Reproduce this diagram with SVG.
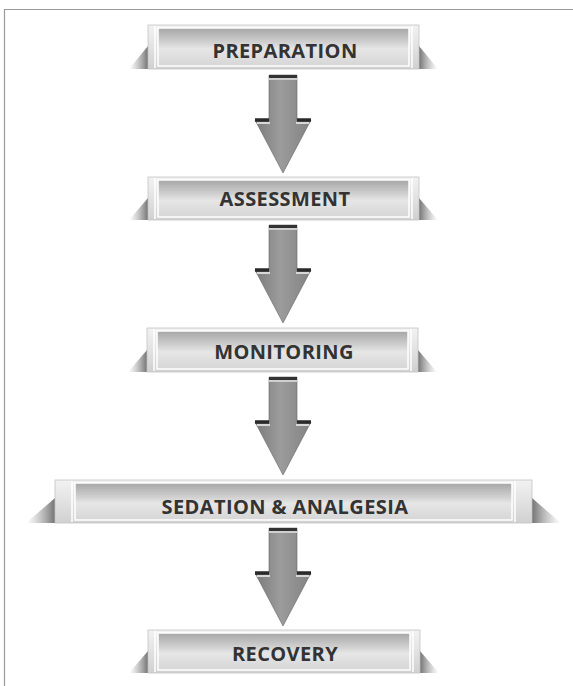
<svg xmlns="http://www.w3.org/2000/svg" width="573" height="686" viewBox="0 0 573 686">
<defs>
<linearGradient id="outer" x1="0" y1="0" x2="0" y2="1">
<stop offset="0" stop-color="#f2f2f2"/><stop offset="0.5" stop-color="#e2e2e2"/><stop offset="1" stop-color="#d0d0d0"/>
</linearGradient>
<linearGradient id="panel" x1="0" y1="0" x2="0" y2="1">
<stop offset="0" stop-color="#a6a6a6"/><stop offset="0.35" stop-color="#cdcdcd"/><stop offset="0.55" stop-color="#e6e6e6"/><stop offset="1" stop-color="#d6d6d6"/>
</linearGradient>
<linearGradient id="shL" x1="1" y1="0" x2="0" y2="0">
<stop offset="0" stop-color="#444" stop-opacity="0.75"/><stop offset="1" stop-color="#888" stop-opacity="0"/>
</linearGradient>
<linearGradient id="shR" x1="0" y1="0" x2="1" y2="0">
<stop offset="0" stop-color="#444" stop-opacity="0.75"/><stop offset="1" stop-color="#888" stop-opacity="0"/>
</linearGradient>
<linearGradient id="arr" x1="0" y1="0" x2="1" y2="0">
<stop offset="0" stop-color="#7a7a7a"/><stop offset="0.45" stop-color="#9c9c9c"/><stop offset="1" stop-color="#828282"/>
</linearGradient>
<g id="arrow">
<path d="M-14,0 H14 V45 H28 L0,98 L-28,45 H-14 Z" fill="url(#arr)" stroke="#666" stroke-width="0.6"/>
<rect x="-14" y="0" width="28" height="3" fill="#333"/>
<rect x="-14" y="3" width="28" height="2" fill="#cfcfcf"/>
<path d="M-28,45 H-14 M14,45 H28" stroke="#2a2a2a" stroke-width="3.5"/>
<path d="M-26,48 H-13 M13,48 H26" stroke="#d8d8d8" stroke-width="2"/>
</g>
</defs>
<style>
.lbl{font-family:"Open Sans","Liberation Sans",sans-serif;font-weight:bold;font-size:20px;letter-spacing:0.4px;fill:#333;text-anchor:middle}
.out{fill:url(#outer);stroke:#c4c4c4;stroke-width:0.8}
.pan{fill:url(#panel);stroke:#ffffff;stroke-width:1.5}
.cap{stroke:#ffffff;stroke-width:1.5}
</style>
<rect width="573" height="686" fill="#ffffff"/>
<path d="M4.5,686 V9.5 H573" fill="none" stroke="#9a9a9a" stroke-width="1.2"/>

<g id="connectors">
<use href="#arrow" x="283" y="75"/>
<use href="#arrow" x="283" y="225"/>
<use href="#arrow" x="283" y="377"/>
<use href="#arrow" x="283" y="528"/>
</g>

<g id="node-preparation">
<polygon points="148,46 148,69 129,69" fill="url(#shL)"/>
<polygon points="419,46 419,69 438,69" fill="url(#shR)"/>
<rect class="out" x="148" y="25" width="271" height="44"/>
<rect class="pan" x="158" y="28" width="251" height="38"/>
<path class="cap" d="M155,26 V68 M412,26 V68"/>
<text class="lbl" x="285" y="58">PREPARATION</text>
</g>

<g id="node-assessment">
<polygon points="148,198 148,220 129,220" fill="url(#shL)"/>
<polygon points="419,198 419,220 438,220" fill="url(#shR)"/>
<rect class="out" x="148" y="177" width="271" height="43"/>
<rect class="pan" x="158" y="180" width="251" height="37"/>
<path class="cap" d="M155,178 V219 M412,178 V219"/>
<text class="lbl" x="285" y="206">ASSESSMENT</text>
</g>

<g id="node-monitoring">
<polygon points="147,350 147,372 128,372" fill="url(#shL)"/>
<polygon points="418,350 418,372 437,372" fill="url(#shR)"/>
<rect class="out" x="147" y="328" width="271" height="44"/>
<rect class="pan" x="157" y="331" width="251" height="38"/>
<path class="cap" d="M154,329 V371 M411,329 V371"/>
<text class="lbl" x="284" y="359">MONITORING</text>
</g>

<g id="node-sedation">
<polygon points="55,498 55,523 26,523" fill="url(#shL)"/>
<polygon points="532,498 532,523 561,523" fill="url(#shR)"/>
<rect class="out" x="55" y="480" width="477" height="43"/>
<rect class="pan" x="75" y="483" width="437" height="37"/>
<path class="cap" d="M72,481 V522 M515,481 V522"/>
<text class="lbl" x="285" y="514">SEDATION &amp; ANALGESIA</text>
</g>

<g id="node-recovery">
<polygon points="148,651 148,673 129,673" fill="url(#shL)"/>
<polygon points="420,651 420,673 439,673" fill="url(#shR)"/>
<rect class="out" x="148" y="630" width="272" height="43"/>
<rect class="pan" x="158" y="633" width="252" height="37"/>
<path class="cap" d="M155,631 V672 M413,631 V672"/>
<text class="lbl" x="285" y="661">RECOVERY</text>
</g>
</svg>
